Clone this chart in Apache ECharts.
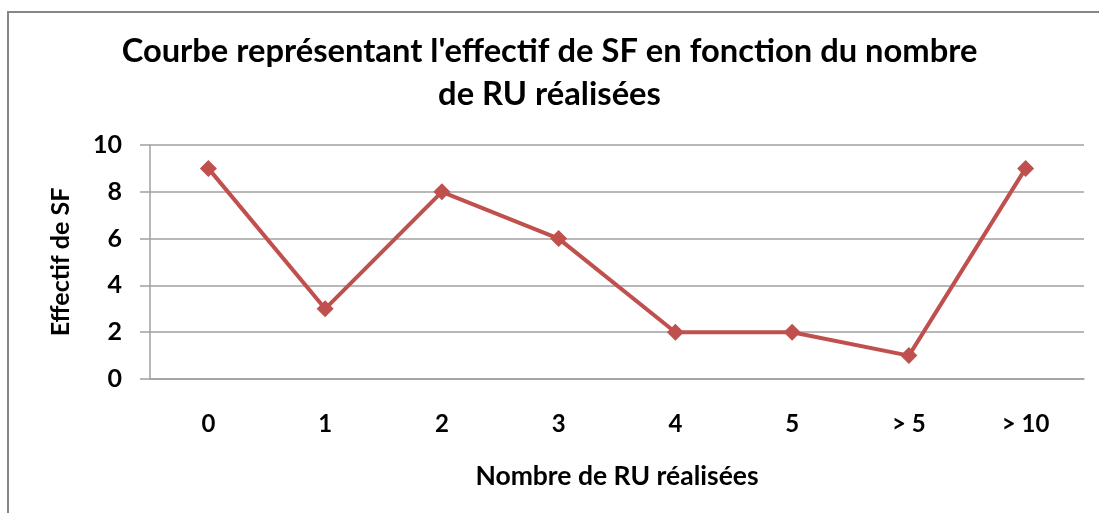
<!DOCTYPE html>
<html><head><meta charset="utf-8">
<script src="https://cdn.jsdelivr.net/npm/echarts@6/dist/echarts.min.js"></script>
<style>html,body{margin:0;padding:0;background:#fff}#c{width:1099px;height:513px}</style>
</head><body><div id="c"></div>
<script>
const categories = ['0','1','2','3','4','5','> 5','> 10'];
const values = [9,3,8,6,2,2,1,9];
const yTicks = {min:0, max:10, interval:2};
const titleText = "Courbe représentant l'effectif de SF en fonction du nombre\nde RU réalisées";
const xName = 'Nombre de RU réalisées';
const yName = 'Effectif de SF';

const F = 'Lato';
const chart = echarts.init(document.getElementById('c'), null, {renderer:'canvas'});
chart.setOption({
  animation:false,
  backgroundColor:'#fff',
  graphic:[{type:'rect', shape:{x:8,y:12,width:1100,height:520}, style:{fill:'none', stroke:'#878787', lineWidth:2}, silent:true}],
  title:{text:titleText, left:'center', top:25, textStyle:{fontFamily:F, fontWeight:'bold', fontSize:32.7, lineHeight:43, color:'#000'}},
  grid:{left:150, right:15, top:145, bottom:134, containLabel:false},
  xAxis:{type:'category', data:categories, boundaryGap:true,
    name:xName, nameLocation:'middle', nameGap:84,
    nameTextStyle:{fontFamily:F, fontWeight:'bold', fontSize:26.5, color:'#000'},
    axisLine:{show:true, lineStyle:{color:'#a0a0a0', width:1.5}},
    axisTick:{show:false},
    axisLabel:{fontFamily:F, fontWeight:'bold', fontSize:24, color:'#000', margin:33}},
  yAxis:{type:'value', min:yTicks.min, max:yTicks.max, interval:yTicks.interval,
    name:yName, nameLocation:'middle', nameGap:77, nameRotate:90,
    nameTextStyle:{fontFamily:F, fontWeight:'bold', fontSize:25, color:'#000'},
    axisLine:{show:true, lineStyle:{color:'#a0a0a0', width:1.5}},
    axisTick:{show:true, length:10, lineStyle:{color:'#a0a0a0', width:1.5}},
    axisLabel:{fontFamily:F, fontWeight:'bold', fontSize:25, color:'#000', margin:28},
    splitLine:{show:true, lineStyle:{color:'#a0a0a0', width:1.5}}},
  series:[{type:'line', data:values, symbol:'diamond', symbolSize:17,
    lineStyle:{color:'#C0504D', width:4}, itemStyle:{color:'#C0504D'}}]
});
</script></body></html>
